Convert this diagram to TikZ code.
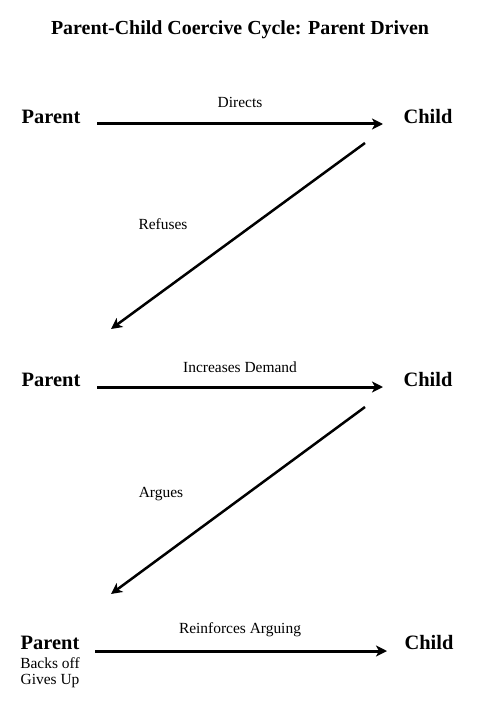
\documentclass[tikz,border=0pt]{standalone}
\usepackage{fontspec}
\setmainfont{Liberation Serif}
\usetikzlibrary{arrows.meta}
\begin{document}
\begin{tikzpicture}[x=1bp,y=-1bp,
  who/.style={font=\fontsize{20.5}{24}\selectfont\bfseries, inner sep=0pt},
  lbl/.style={font=\fontsize{15.5}{18}\selectfont, inner sep=0pt},
  harrow/.style={line width=3bp, -{Stealth[length=11bp,width=11bp,inset=3bp]}},
  darrow/.style={line width=2.5bp, -{Stealth[length=11bp,width=11bp,inset=3bp]}}]
\useasboundingbox (0,0) rectangle (479,702);
\node[font=\fontsize{20}{24}\selectfont\bfseries, inner sep=0pt] (title) at (240,30) {Parent-Child Coercive Cycle: Parent Driven};
% row 1
\node[who] (p1) at (51,117) {Parent};
\node[who] (c1) at (428,117) {Child};
\coordinate (a1s) at (97,124);
\coordinate (a1e) at (383,124);
\draw[harrow] (a1s) -- (a1e);
\node[lbl] (l1) at (240,102) {Directs};
\coordinate (d1s) at (365,143);
\coordinate (d1e) at (111,329);
\draw[darrow] (d1s) -- (d1e);
\node[lbl] (l2) at (163,224) {Refuses};
% row 2
\node[who] (p2) at (51,380) {Parent};
\node[who] (c2) at (428,380) {Child};
\coordinate (a2s) at (97,387);
\coordinate (a2e) at (383,387);
\draw[harrow] (a2s) -- (a2e);
\node[lbl] (l3) at (240,367) {Increases Demand};
\coordinate (d2s) at (365,407);
\coordinate (d2e) at (111,594);
\draw[darrow] (d2s) -- (d2e);
\node[lbl] (l4) at (161,494) {Argues};
% row 3
\node[who] (p3) at (50,643) {Parent};
\node[lbl] (b3) at (50,663) {Backs off};
\node[lbl] (g3) at (50,681) {Gives Up};
\node[who] (c3) at (429,643) {Child};
\coordinate (a3s) at (95,651);
\coordinate (a3e) at (387,651);
\draw[harrow] (a3s) -- (a3e);
\node[lbl] (l5) at (240,630) {Reinforces Arguing};
\end{tikzpicture}
\end{document}
